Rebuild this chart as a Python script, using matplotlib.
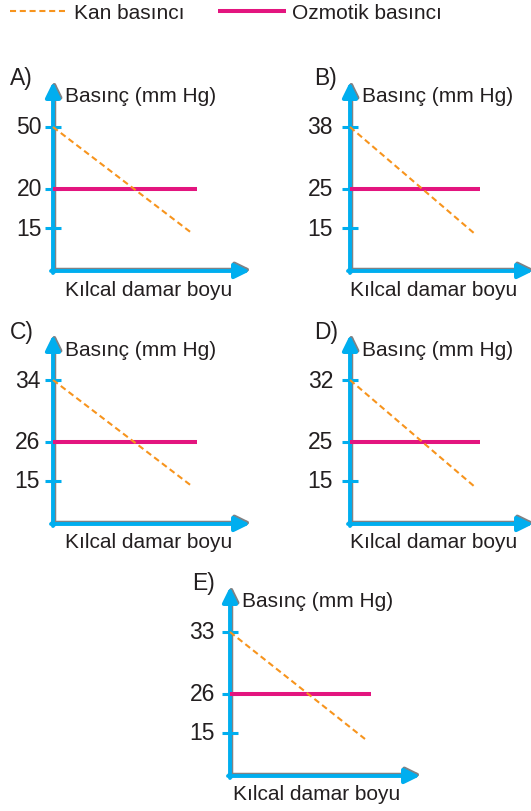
import matplotlib
matplotlib.use('Agg')
import matplotlib.pyplot as plt
from matplotlib import transforms

plt.rcParams['font.family'] = ['Liberation Sans', 'DejaVu Sans']

# data
panels = ['A)', 'B)', 'C)', 'D)', 'E)']
kan_basinci = [50, 38, 34, 32, 33]        # top tick (blood pressure at start)
ozmotik_basinci = [20, 25, 26, 25, 26]    # middle tick (osmotic pressure)
alt_deger = [15, 15, 15, 15, 15]          # bottom tick
y_title = 'Basınç (mm Hg)'
x_title = 'Kılcal damar boyu'
legend_labels = ['Kan basıncı', 'Ozmotik basıncı']

# layout (pixels)
W, H = 531, 812
origins = [(53, 272), (350, 272), (53, 525), (350, 525), (230, 777)]
x_len = [197, 183, 197, 183, 190]
dash_end = [140, 125, 140, 125, 135]
pink_end = [144, 130, 144, 130, 141]
label_dx = [-43, -36, -43, -36, -38]
tick_lbl_dx = [-11, -17, -13, -17, -15]
xtitle_dx = [12, 0, 12, 0, 3]
levels = [144, 82, 43]      # vertical position of the three ticks
y_len = 189
dash_bottom = 37

blue = '#00AEEF'
pink = '#E3157F'
orange = '#F7941D'
shadow = '#808285'
txt = '#231F20'
fs = 15
fs_num = 16.5

fig = plt.figure(figsize=(W / 100, H / 100), dpi=100)

handles = []
for i, name in enumerate(panels):
    ox, oy = origins[i]
    ax = fig.add_axes([(ox - 60) / W, (H - (oy + 30)) / H, 270 / W, 240 / H])
    ax.set_xlim(-60, 210)
    ax.set_ylim(-30, 210)
    ax.axis('off')

    sh = transforms.offset_copy(ax.transData, fig=fig, x=1.3, y=1.3, units='dots')
    for tr, col, z in [(sh, shadow, 1), (ax.transData, blue, 2)]:
        style = '-|>,head_length=0.65,head_width=0.32'
        ax.annotate('', xy=(0, y_len), xytext=(0, -2), xycoords=tr, textcoords=tr,
                    arrowprops=dict(arrowstyle=style, color=col, lw=2.8,
                                    shrinkA=0, shrinkB=0, mutation_scale=14), zorder=z)
        ax.annotate('', xy=(x_len[i], 0), xytext=(-2, 0), xycoords=tr, textcoords=tr,
                    arrowprops=dict(arrowstyle=style, color=col, lw=2.8,
                                    shrinkA=0, shrinkB=0, mutation_scale=14), zorder=z)

    values = [kan_basinci[i], ozmotik_basinci[i], alt_deger[i]]
    for lev, v in zip(levels, values):
        ax.plot([-8, 8], [lev, lev], color=blue, lw=2.2, solid_capstyle='butt', zorder=3)
        ax.text(tick_lbl_dx[i], lev, str(v), ha='right', va='center', fontsize=fs_num, color=txt)

    p, = ax.plot([0, pink_end[i]], [levels[1], levels[1]], color=pink, lw=2.9,
                 solid_capstyle='butt', zorder=4)
    d, = ax.plot([0, dash_end[i]], [levels[0], dash_bottom], color=orange, lw=1.5,
                 linestyle=(0, (2.9, 1.8)), zorder=5)
    if i == 0:
        handles = [d, p]

    ax.text(label_dx[i], 193, name, ha='left', va='center', fontsize=fs_num, color=txt)
    ax.text(12, 175, y_title, ha='left', va='center', fontsize=fs, color=txt)
    ax.text(xtitle_dx[i], -18, x_title, ha='left', va='center', fontsize=fs, color=txt)

# two single-entry legends so each sample has its own length
fig.legend(handles=[handles[0]], labels=[legend_labels[0]], loc='upper left',
           bbox_to_anchor=(10 / W, 1 - 4 / H), frameon=False, fontsize=fs,
           handlelength=2.8, handletextpad=0.25,
           borderpad=0, borderaxespad=0, labelcolor=txt)
fig.legend(handles=[handles[1]], labels=[legend_labels[1]], loc='upper left',
           bbox_to_anchor=(218 / W, 1 - 4 / H), frameon=False, fontsize=fs,
           handlelength=3.27, handletextpad=0.28,
           borderpad=0, borderaxespad=0, labelcolor=txt)

fig.savefig('out.png', dpi=100)
